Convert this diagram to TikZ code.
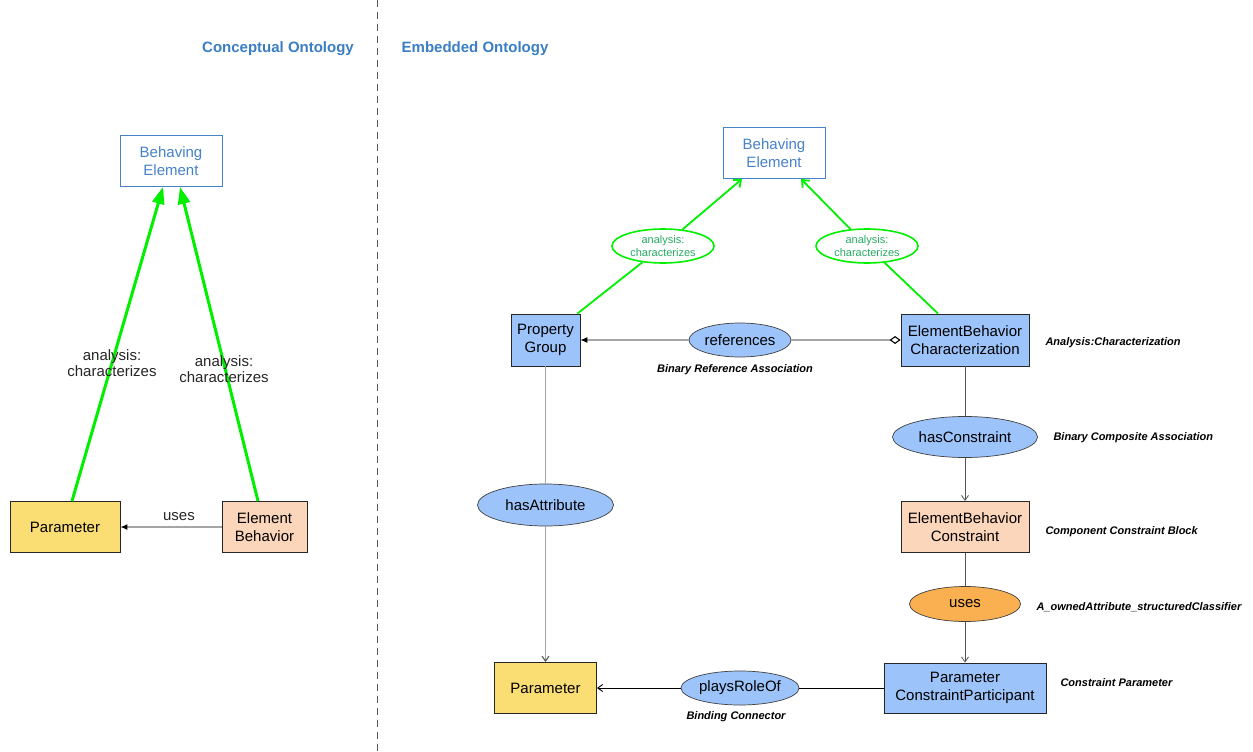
\documentclass[tikz,border=0pt]{standalone}
\usepackage{fontspec}
\setmainfont{Liberation Sans}
\usetikzlibrary{shapes.geometric,arrows.meta,calc}
\definecolor{hdr}{RGB}{58,126,196}
\definecolor{beblue}{RGB}{70,130,200}
\definecolor{fblue}{RGB}{157,196,250}
\definecolor{fyellow}{RGB}{250,222,115}
\definecolor{fpeach}{RGB}{252,214,186}
\definecolor{forange}{RGB}{250,176,80}
\definecolor{lgreen}{RGB}{0,240,0}
\definecolor{tgreen}{RGB}{40,170,100}
\definecolor{lgray}{RGB}{165,165,165}
\definecolor{dgray}{RGB}{85,85,85}
\tikzset{
  big/.style={font=\fontsize{15}{18}\selectfont},
  box/.style={draw=black!85, line width=0.9pt, align=center, inner sep=0pt, big},
  bebox/.style={draw=beblue, line width=0.9pt, fill=white, text=beblue, align=center,
    inner sep=0pt, big, minimum width=102pt, minimum height=51pt},
  ell/.style={ellipse, draw=black!75, line width=0.7pt, fill=fblue, inner sep=0pt, big},
  gell/.style={ellipse, draw=lgreen, line width=1.6pt, fill=white, text=tgreen, align=center,
    inner sep=0pt, font=\fontsize{11}{13.3}\selectfont, minimum width=102pt, minimum height=34pt},
  note/.style={font=\fontsize{11}{13}\selectfont\bfseries\itshape},
  hdrtext/.style={font=\fontsize{15}{18}\selectfont\bfseries, text=hdr},
  lbl/.style={align=center, font=\fontsize{15}{16.7}\selectfont, text=black!85},
  vtip/.style={-{Straight Barb[length=5pt,width=7pt]}},
  thickgreen/.style={draw=lgreen, line width=3pt, -{Triangle[length=17pt,width=12pt]}},
  thingreen/.style={draw=lgreen, line width=1.8pt},
  thingreenarr/.style={draw=lgreen, line width=1.8pt, -{Straight Barb[length=6pt,width=10pt]}},
}
\begin{document}
\begin{tikzpicture}[x=1pt,y=-1pt]
\fill[white] (0,0) rectangle (1253,752);
\useasboundingbox (0,0) rectangle (1253,752);

% divider and headers
\coordinate (dtop) at (377,0);
\coordinate (dbot) at (377,752);
\draw[dgray, line width=0.8pt, dash pattern=on 7pt off 5pt] (dtop) -- (dbot);
\node[hdrtext] (h1) at (278,49) {Conceptual Ontology};
\node[hdrtext] (h2) at (475,49) {Embedded Ontology};

% ---------------- left: conceptual ----------------
\node[bebox] (BE1) at (171,161) {Behaving\\Element};
\node[box, fill=fyellow, minimum width=110pt, minimum height=51pt] (P1) at (65,527) {Parameter};
\node[box, fill=fpeach, minimum width=85pt, minimum height=51pt] (EB1) at (264.5,527) {Element\\Behavior};

\draw[thickgreen] ($(P1.north)+(7,0)$) -- ($(BE1.south)+(-8,0)$);
\draw[thickgreen] ($(EB1.north)+(-6.5,0)$) -- ($(BE1.south)+(9,0)$);
\node[lbl] (l1) at (112,363) {analysis:\\characterizes};
\node[lbl] (l2) at (224,369) {analysis:\\characterizes};

\draw[lgray, line width=1.2pt, -{Latex[length=7pt,width=6pt,black]}] (EB1.west) -- (P1.east);
\node[lbl] (u1) at (179,517) {uses};

% ---------------- right: embedded ----------------
\node[bebox] (BE2) at (774,153) {Behaving\\Element};
\node[box, fill=fblue, minimum width=69pt, minimum height=52pt] (PG) at (545.5,340) {Property\\Group};
\node[box, fill=fblue, minimum width=128pt, minimum height=52pt] (EBC) at (965,340) {ElementBehavior\\Characterization};
\node[box, fill=fpeach, minimum width=128pt, minimum height=51pt] (EBCon) at (965,527) {ElementBehavior\\Constraint};
\node[box, fill=fblue, minimum width=162pt, minimum height=50pt] (PCP) at (965,688) {Parameter\\ConstraintParticipant};
\node[box, fill=fyellow, minimum width=102pt, minimum height=51pt] (P2) at (545.5,688) {Parameter};

\node[gell] (an1) at (663,246) {analysis:\\characterizes};
\node[gell] (an2) at (867,246) {analysis:\\characterizes};

\draw[thingreen] ($(PG.north east)+(-3,0)$) -- (an1);
\draw[thingreenarr] (an1) -- ($(BE2.south)+(-32,0)$);
\draw[thingreen] ($(EBC.north)+(-27,0)$) -- (an2);
\draw[thingreenarr] (an2) -- ($(BE2.south)+(27,0)$);

\node[ell, minimum width=102pt, minimum height=34pt] (refs) at (740,340) {references};
\draw[lgray, line width=1.1pt, -{Latex[length=7pt,width=6pt,black]}] (refs) -- (PG.east);
\draw[lgray, line width=1.1pt, -{Diamond[open,length=11pt,width=8pt,black]}] (refs) -- (EBC.west);
\node[note] (n1) at (735,370) {Binary Reference Association};

\node[ell, minimum width=145pt, minimum height=41pt] (hasC) at (965,437) {hasConstraint};
\draw[dgray, line width=0.8pt] (EBC.south) -- (hasC);
\draw[dgray, line width=0.8pt, vtip] (hasC) -- (EBCon.north);

\node[ell, fill=forange, minimum width=111pt, minimum height=35pt] (uses2) at (965,604) {uses};
\draw[dgray, line width=0.8pt] (EBCon.south) -- (uses2);
\draw[dgray, line width=0.8pt, vtip] (uses2) -- (PCP.north);

\node[ell, minimum width=136pt, minimum height=42pt] (hasA) at (545.5,505) {hasAttribute};
\draw[lgray, line width=1.1pt] (PG.south) -- (hasA);
\draw[lgray, line width=1.1pt, -{Straight Barb[length=5pt,width=7pt,dgray]}] (hasA) -- (P2.north);

\node[ell, minimum width=118pt, minimum height=34pt] (plays) at (740,688) {playsRoleOf};
\draw[black, line width=0.9pt] (PCP.west) -- (plays);
\draw[black, line width=0.9pt, vtip] (plays) -- (P2.east);
\node[note] (n7) at (736,717) {Binding Connector};

\node[note, anchor=west] (n2) at (1042,343) {Analysis:Characterization};
\node[note, anchor=west] (n3) at (1050,438) {Binary Composite Association};
\node[note, anchor=west] (n4) at (1042,532) {Component Constraint Block};
\node[note, anchor=west] (n5) at (1033,607) {A\_ownedAttribute\_structuredClassifier};
\node[note, anchor=west] (n6) at (1057,683) {Constraint Parameter};
\end{tikzpicture}
\end{document}
